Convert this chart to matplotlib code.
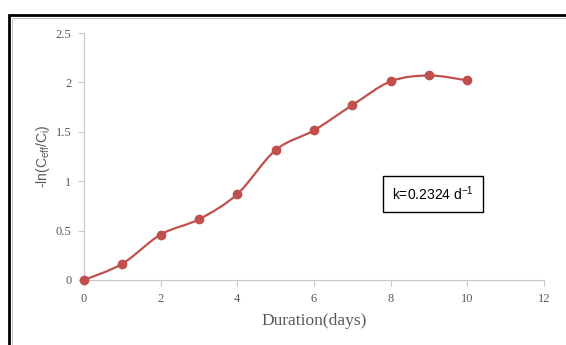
import matplotlib
matplotlib.use("Agg")
import matplotlib.pyplot as plt
import numpy as np
from matplotlib.path import Path
from matplotlib.patches import PathPatch, Rectangle

days = [0, 1, 2, 3, 4, 5, 6, 7, 8, 9, 10]
neg_ln = [0.0, 0.165, 0.46, 0.615, 0.87, 1.315, 1.515, 1.77, 2.01, 2.07, 2.02]
x_ticks = [0, 2, 4, 6, 8, 10, 12]
y_ticks = [0, 0.5, 1, 1.5, 2, 2.5]
y_tick_labels = ["0", "0.5", "1", "1.5", "2", "2.5"]
annotation = "k=0.2324 d$^{\\mathregular{-1}}$"

red = "#C0504D"
gray_txt = "#595959"
spine_c = "#C8C8C8"

fig = plt.figure(figsize=(5.66, 3.45), dpi=100)
# outer frame (cut off at right and bottom)
fig.patches.append(Rectangle((9/566, -0.1), 1.2, 1 - 14.5/345 + 0.1, transform=fig.transFigure,
                             fill=False, edgecolor="black", linewidth=2.0))
fig.patches.append(Rectangle((12/566, -0.1), 1.2, 1 - 17.7/345 + 0.1, transform=fig.transFigure,
                             fill=False, edgecolor="#C0C0C0", linewidth=0.7))

ax = fig.add_axes([84/566, 1 - 280/345, (544 - 84)/566, (280 - 33)/345])
ax.set_xlim(0, 12)
ax.set_ylim(0, 2.5)

# smoothed line (Excel-style Bezier through points)
x = np.array(days, float)
y = np.array(neg_ln, float)
verts = [(x[0], y[0])]
codes = [Path.MOVETO]
n = len(x)
t = 1/6
for i in range(n - 1):
    p0 = (x[i-1], y[i-1]) if i > 0 else (x[i], y[i])
    p1 = (x[i], y[i])
    p2 = (x[i+1], y[i+1])
    p3 = (x[i+2], y[i+2]) if i + 2 < n else (x[i+1], y[i+1])
    c1 = (p1[0] + (p2[0] - p0[0]) * t, p1[1] + (p2[1] - p0[1]) * t)
    c2 = (p2[0] - (p3[0] - p1[0]) * t, p2[1] - (p3[1] - p1[1]) * t)
    verts += [c1, c2, p2]
    codes += [Path.CURVE4] * 3
ax.add_patch(PathPatch(Path(verts, codes), facecolor="none", edgecolor=red, linewidth=1.6,
                       clip_on=False, zorder=3))
ax.plot(days, neg_ln, linestyle="none", marker="o", markersize=6, color=red, clip_on=False, zorder=4)

for s in ["top", "right"]:
    ax.spines[s].set_visible(False)
for s in ["left", "bottom"]:
    ax.spines[s].set_color(spine_c)
    ax.spines[s].set_linewidth(0.8)

ax.set_xticks(x_ticks)
ax.set_xticklabels([str(v) for v in x_ticks], fontfamily="Liberation Serif", fontsize=9, color=gray_txt)
ax.set_yticks(y_ticks)
ax.set_yticklabels(y_tick_labels, fontfamily="Liberation Serif", fontsize=9, color=gray_txt)
ax.tick_params(axis="both", direction="out", length=4, width=0.8, color=spine_c, pad=5)

ax.set_xlabel("Duration(days)", fontfamily="Liberation Serif", fontsize=12.5, color=gray_txt, labelpad=6)
ax.set_ylabel("-ln(C$_{\\mathregular{eff}}$/C$_{\\mathregular{i}}$)", fontfamily="Liberation Sans",
              fontsize=10, color=gray_txt, labelpad=3)

ax.text(433/566, 1 - 194/345, annotation, transform=fig.transFigure, ha="center", va="center",
        fontfamily="Liberation Sans", fontsize=10, color="black",
        bbox=dict(boxstyle="square,pad=0.65", facecolor="white", edgecolor="black", linewidth=1))

fig.savefig("out.png", dpi=100)
